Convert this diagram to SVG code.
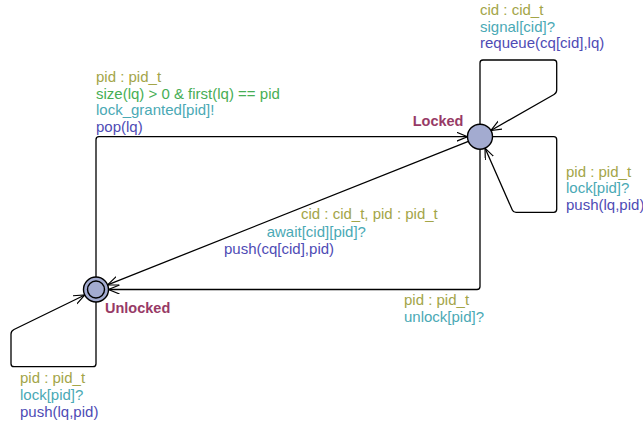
<svg xmlns="http://www.w3.org/2000/svg" width="643" height="423" viewBox="0 0 643 423">
  <style>
    text { font-family: "Liberation Sans", Arial, sans-serif; font-size: 15px; }
    .name { font-weight: bold; font-size: 14.5px; fill: #973a66; }
    .select { fill: #a3a548; }
    .guard { fill: #47ae55; }
    .sync { fill: #4aa9b5; }
    .update { fill: #4e4bb5; }
    .loc { fill: #a3abd0; stroke: #000; stroke-width: 1.4; }
    .edge { fill: none; stroke: #000; stroke-width: 1.3; marker-end: url(#arrow); }
  </style>
  <defs>
    <marker id="arrow" markerUnits="userSpaceOnUse" markerWidth="14" markerHeight="10" refX="11" refY="4.5" orient="auto">
      <path d="M0,0 L11,4.5 L0,9" fill="none" stroke="#000" stroke-width="1.2"/>
    </marker>
  </defs>

  <!-- transitions -->
  <g id="edges">
    <!-- Locked -> Unlocked : unlock -->
    <path class="edge" d="M480,149.2 L480,286.5 Q480,289.5 477,289.5 L108.5,289.5"/>
    <!-- Unlocked -> Locked : lock_granted -->
    <path class="edge" d="M96,277 L96,139.7 Q96,136.7 99,136.7 L467.5,136.7"/>
    <!-- Locked -> Unlocked : await -->
    <path class="edge" d="M468.4,141.3 L107.6,284.9"/>
    <!-- Unlocked self-loop : lock -->
    <path class="edge" d="M96,302 L96,363.7 Q96,366.7 93,366.7 L14,366.7 Q11,366.7 11,363.7 L11,334 Q11,331 14,329.5 L84.8,295"/>
    <!-- Locked self-loop : signal -->
    <path class="edge" d="M480,124.2 L480,63 Q480,60 483,60 L553.7,60 Q556.7,60 556.7,63 L556.7,90 Q556.7,93 554,94.5 L490.9,130.5"/>
    <!-- Locked self-loop : lock -->
    <path class="edge" d="M492.5,136.7 L553.7,136.7 Q556.7,136.7 556.7,139.7 L556.7,209.3 Q556.7,212.3 553.7,212.3 L516,212.3 Q513.3,212.3 512.3,210 L485,148.1"/>
  </g>

  <!-- locations -->
  <g id="Locked">
    <circle class="loc" cx="480" cy="136.7" r="12.5"/>
    <text class="name" x="412.7" y="125.7">Locked</text>
  </g>
  <g id="Unlocked">
    <circle class="loc" cx="96" cy="289.5" r="12.5"/>
    <circle class="loc" cx="96" cy="289.5" r="8.5"/>
    <text class="name" x="105" y="313.3">Unlocked</text>
  </g>

  <!-- edge labels -->
  <g id="label-unlock">
    <text class="select" x="404" y="305">pid : pid_t</text>
    <text class="sync" x="404" y="321.7">unlock[pid]?</text>
  </g>
  <g id="label-granted">
    <text class="select" x="96" y="82">pid : pid_t</text>
    <text class="guard" x="96" y="98.7">size(lq) &gt; 0 &amp; first(lq) == pid</text>
    <text class="sync" x="96" y="115.4">lock_granted[pid]!</text>
    <text class="update" x="96" y="132.1">pop(lq)</text>
  </g>
  <g id="label-await">
    <text class="select" x="301" y="219.3">cid : cid_t, pid : pid_t</text>
    <text class="sync" x="266.7" y="236.5">await[cid][pid]?</text>
    <text class="update" x="224" y="253.5">push(cq[cid],pid)</text>
  </g>
  <g id="label-unlocked-lock">
    <text class="select" x="20" y="383.3">pid : pid_t</text>
    <text class="sync" x="20" y="400">lock[pid]?</text>
    <text class="update" x="20" y="416.7">push(lq,pid)</text>
  </g>
  <g id="label-signal">
    <text class="select" x="480" y="15">cid : cid_t</text>
    <text class="sync" x="480" y="31.7">signal[cid]?</text>
    <text class="update" x="480" y="48.4">requeue(cq[cid],lq)</text>
  </g>
  <g id="label-locked-lock">
    <text class="select" x="566" y="176.7">pid : pid_t</text>
    <text class="sync" x="566" y="193.4">lock[pid]?</text>
    <text class="update" x="566" y="210.1">push(lq,pid)</text>
  </g>
</svg>
